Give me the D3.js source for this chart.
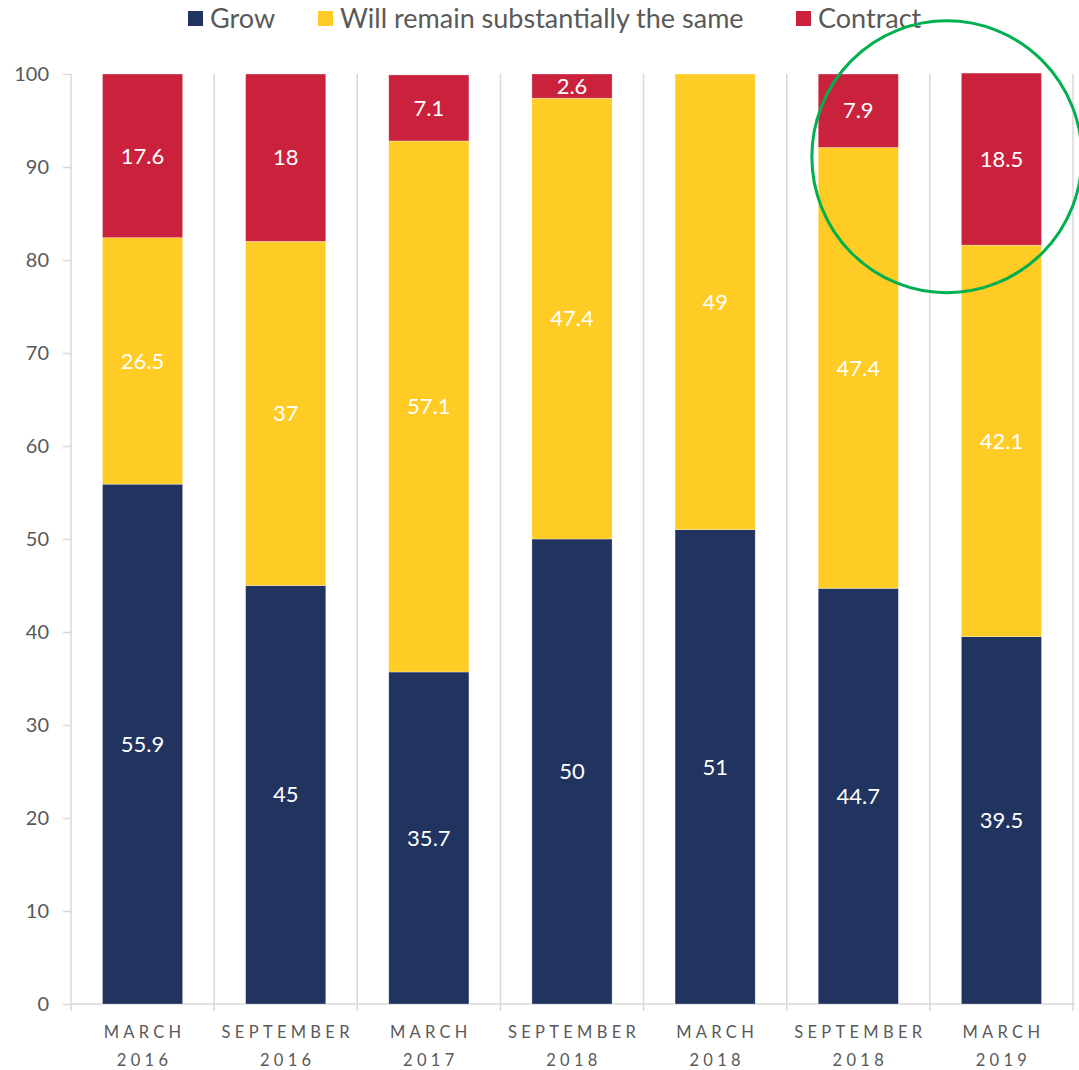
<!DOCTYPE html>
<html>
<head>
<meta charset="utf-8">
<script src="https://cdn.jsdelivr.net/npm/d3@7"></script>
<style>
  body { margin: 0; background: #fff; }
  text { font-family: Lato, "Open Sans", sans-serif; }
</style>
</head>
<body>
<script>
let periods = ["MARCH", "SEPTEMBER", "MARCH", "SEPTEMBER", "MARCH", "SEPTEMBER", "MARCH"];
let years = ["2016", "2016", "2017", "2018", "2018", "2018", "2019"];

let grow = [55.9, 45, 35.7, 50, 51, 44.7, 39.5];
let same = [26.5, 37, 57.1, 47.4, 49, 47.4, 42.1];
let contract = [17.6, 18, 7.1, 2.6, 0, 7.9, 18.5];

let seriesNames = ["Grow", "Will remain substantially the same", "Contract"];
let seriesColors = ["#21335f", "#ffcb25", "#ca223c"];
let yTicks = [0, 10, 20, 30, 40, 50, 60, 70, 80, 90, 100];

let width = 1079,
    height = 1070;

let margin = {left: 71, right: 6, top: 74, bottom: 66};

let rows = periods.map((p, i) => ({
    idx: i, grow: grow[i], same: same[i], contract: contract[i]
}));
let keys = ["grow", "same", "contract"];

let stack = d3.stack().keys(keys)(rows);

let x = d3.scaleBand()
    .domain(d3.range(periods.length))
    .range([margin.left, width - margin.right])
    .paddingInner(0.44)
    .paddingOuter(0.22);

let y = d3.scaleLinear()
    .domain([0, 100])
    .range([height - margin.bottom, margin.top]);

let svg = d3.select("body").append("svg")
    .attr("width", width)
    .attr("height", height);

// category separators
let step = x.step();
let x0 = margin.left;
let seps = d3.range(periods.length + 1).map(i => x0 + i * step);

svg.append("g").selectAll("line")
    .data(seps)
    .join("line")
    .attr("x1", d => d).attr("x2", d => d)
    .attr("y1", y(100)).attr("y2", y(0) + 7)
    .attr("stroke", "#d9d9d9")
    .attr("stroke-width", 1.5);

// y axis
let yAxis = d3.axisLeft(y).tickValues(yTicks).tickSize(8).tickPadding(14);
let yg = svg.append("g")
    .attr("transform", `translate(${margin.left},0)`)
    .call(yAxis);
yg.select(".domain").remove();
yg.selectAll(".tick line").attr("stroke", "#d9d9d9").attr("stroke-width", 1.5);
yg.selectAll(".tick text")
    .attr("fill", "#595959")
    .style("font-size", "20px")
    .style("font-family", "Lato, sans-serif");

// x axis baseline
svg.append("line")
    .attr("x1", margin.left).attr("x2", width - margin.right + 2)
    .attr("y1", y(0)).attr("y2", y(0))
    .attr("stroke", "#d9d9d9")
    .attr("stroke-width", 1.5);

// bars
let layers = svg.append("g").selectAll("g")
    .data(stack)
    .join("g")
    .attr("fill", (d, i) => seriesColors[i]);

layers.selectAll("rect")
    .data(d => d)
    .join("rect")
    .attr("x", d => x(d.data.idx))
    .attr("width", x.bandwidth())
    .attr("y", d => y(d[1]))
    .attr("height", d => y(d[0]) - y(d[1]))
    .attr("stroke", "rgba(255,255,255,0.5)")
    .attr("stroke-width", 0.6);

// value labels
layers.selectAll("text")
    .data(d => d.map(v => ({v: v, key: d.key})))
    .join("text")
    .filter(d => d.v.data[d.key] > 0)
    .attr("x", d => x(d.v.data.idx) + x.bandwidth() / 2)
    .attr("y", d => (y(d.v[0]) + y(d.v[1])) / 2)
    .attr("text-anchor", "middle")
    .attr("dy", "0.35em")
    .attr("fill", "#fff")
    .style("font-size", "22px")
    .text(d => d.v.data[d.key]);

// category labels
let xl = svg.append("g").selectAll("text")
    .data(periods)
    .join("text")
    .attr("text-anchor", "middle")
    .attr("fill", "#595959")
    .style("font-size", "16.5px")
    .style("letter-spacing", "4.3px");
xl.append("tspan")
    .attr("x", (d, i) => x(i) + x.bandwidth() / 2 + 2)
    .attr("y", y(0) + 34)
    .text(d => d);
xl.append("tspan")
    .attr("x", (d, i) => x(i) + x.bandwidth() / 2 + 2)
    .attr("y", y(0) + 62)
    .text((d, i) => years[i]);

// legend
let legendX = [188, 318, 796];
let legend = svg.append("g").selectAll("g")
    .data(seriesNames)
    .join("g")
    .attr("transform", (d, i) => `translate(${legendX[i]},0)`);
legend.append("rect")
    .attr("x", 0).attr("y", 11)
    .attr("width", 15).attr("height", 15)
    .attr("fill", (d, i) => seriesColors[i]);
legend.append("text")
    .attr("x", 22).attr("y", 28)
    .attr("fill", "#595959")
    .style("font-size", "27px")
    .text(d => d);

// highlight circle around the last two periods
svg.append("ellipse")
    .attr("cx", seps[6] + 17)
    .attr("cy", y(91.1))
    .attr("rx", 135)
    .attr("ry", 136)
    .attr("fill", "none")
    .attr("stroke", "#00b050")
    .attr("stroke-width", 3);
</script>
</body>
</html>
